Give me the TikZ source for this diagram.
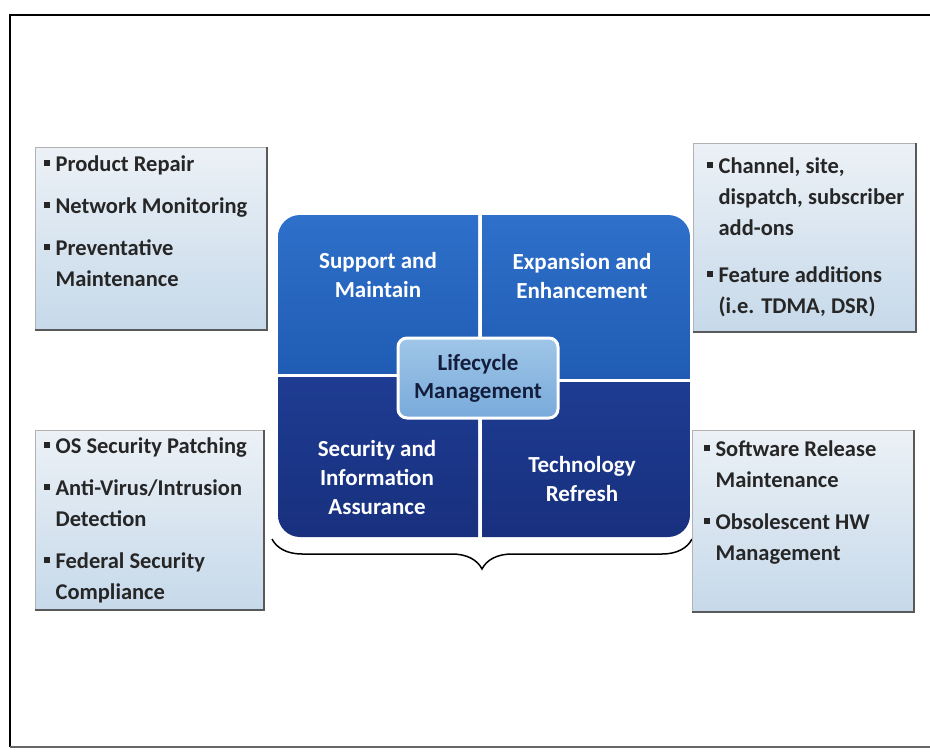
\documentclass[tikz,border=0pt]{standalone}
\usepackage{fontspec}
\setmainfont{Carlito}
\usetikzlibrary{calc,decorations.pathreplacing}

\begin{document}
\begin{tikzpicture}[x=1pt,y=-1pt]
        %%init
        %中间方块的边界
        \newcommand{\blockl}{278}
        \newcommand{\blockr}{690}
        \newcommand{\blockt}{215}
        \newcommand{\blockb}{537}
        %分隔线位置
        \newcommand{\midx}{480}
        \newcommand{\midyl}{375}
        \newcommand{\midyr}{380}
        %小方块项目符号
        \newcommand{\sqb}{\rule[0.28em]{0.24em}{0.24em}}

        \coordinate (A) at (\blockl,\blockt);
        \coordinate (B) at (\blockr,\blockb);
        \coordinate (L) at (\blockl-6,\blockb+2); %花括号左端
        \coordinate (R) at (\blockr+2,\blockb+2); %花括号右端

        %%设置颜色及样式
        \definecolor{top_light}{RGB}{46,112,202}
        \definecolor{top_dark}{RGB}{32,92,180}
        \definecolor{bot_light}{RGB}{30,60,146}
        \definecolor{bot_dark}{RGB}{24,48,126}
        \definecolor{core_light}{RGB}{160,198,232}
        \definecolor{core_dark}{RGB}{120,170,218}
        \definecolor{core_text}{RGB}{20,30,60}
        \definecolor{box_light}{RGB}{236,241,246}
        \definecolor{box_dark}{RGB}{198,217,234}
        \tikzset{quad_text/.style = {text=white, align=center, font=\bfseries\fontsize{23}{29}\selectfont}}
        \tikzset{side_text/.style = {anchor=north west, inner sep=0, text=black!85, font=\bfseries\fontsize{22.5}{31}\selectfont}}
        \tikzset{side_box/.style = {top color=box_light, bottom color=box_dark, draw=gray!60, line width=1}}
        \tikzset{side_shadow/.style = {draw=black!65, line width=2.5}}

        \useasboundingbox (0,0) rectangle (930,752);
        \fill[white] (0,0) rectangle (930,752);

        %%外框
        \draw[line width=2.5] (930,15)--(10,15)--(10,747);
        \draw[line width=1.2, black!60] (10,747)--(930,747);

        %%四个象限
        \begin{scope}
            \clip[rounded corners=22] (A) rectangle (B);
            \shade[top color=top_light, bottom color=top_dark] (\blockl,\blockt) rectangle (\midx-2,\midyl-2);
            \shade[top color=top_light, bottom color=top_dark] (\midx+2,\blockt) rectangle (\blockr,\midyr-2);
            \shade[top color=bot_light, bottom color=bot_dark] (\blockl,\midyl+2) rectangle (\midx-2,\blockb);
            \shade[top color=bot_light, bottom color=bot_dark] (\midx+2,\midyr+2) rectangle (\blockr,\blockb);
        \end{scope}

        \node[quad_text] (sup) at (378,275) {Support and\\Maintain};
        \node[quad_text] (exp) at (582,276) {Expansion and\\Enhancement};
        \node[quad_text] (sec) at (377,478) {Security and\\Information\\Assurance};
        \node[quad_text] (tec) at (582,479) {Technology\\Refresh};

        %中心方块
        \node[draw=white, line width=3, rounded corners=9, top color=core_light, bottom color=core_dark,
              minimum width=160, minimum height=80, align=center, text=core_text,
              font=\bfseries\fontsize{23}{28}\selectfont] (lcm) at (478,378) {Lifecycle\\Management};

        %%花括号
        \draw[line width=1.5, decorate, decoration={brace, mirror, amplitude=30}] (L)--(R);

        %%四周的说明框
        \foreach \bl/\bt/\br/\bb in {35/147/267/330, 693/143/916/332, 35/430/264/610, 692/430/914/612}
        {
            \draw[side_box] (\bl,\bt) rectangle (\br,\bb);
            \draw[side_shadow] (\bl,\bb)--(\br,\bb)--(\br,\bt);
        }

        %左上
        \node[side_text] (lt) at (44,150) {\begin{tabular}{@{}l@{\hspace{6pt}}l@{}}
            \sqb & Product Repair\\[11pt]
            \sqb & Network Monitoring\\[11pt]
            \sqb & Preventative\\
                 & Maintenance
        \end{tabular}};
        %右上
        \node[side_text] (rt) at (707,152) {\begin{tabular}{@{}l@{\hspace{6pt}}l@{}}
            \sqb & Channel, site,\\
                 & dispatch, subscriber\\
                 & add-ons\\[16pt]
            \sqb & Feature additions\\
                 & (i.e. TDMA, DSR)
        \end{tabular}};
        %左下
        \node[side_text] (lb) at (44,432) {\begin{tabular}{@{}l@{\hspace{6pt}}l@{}}
            \sqb & OS Security Patching\\[11pt]
            \sqb & Anti-Virus/Intrusion\\
                 & Detection\\[11pt]
            \sqb & Federal Security\\
                 & Compliance
        \end{tabular}};
        %右下
        \node[side_text] (rb) at (704,435) {\begin{tabular}{@{}l@{\hspace{6pt}}l@{}}
            \sqb & Software Release\\
                 & Maintenance\\[11pt]
            \sqb & Obsolescent HW\\
                 & Management
        \end{tabular}};

    \end{tikzpicture}
\end{document}
